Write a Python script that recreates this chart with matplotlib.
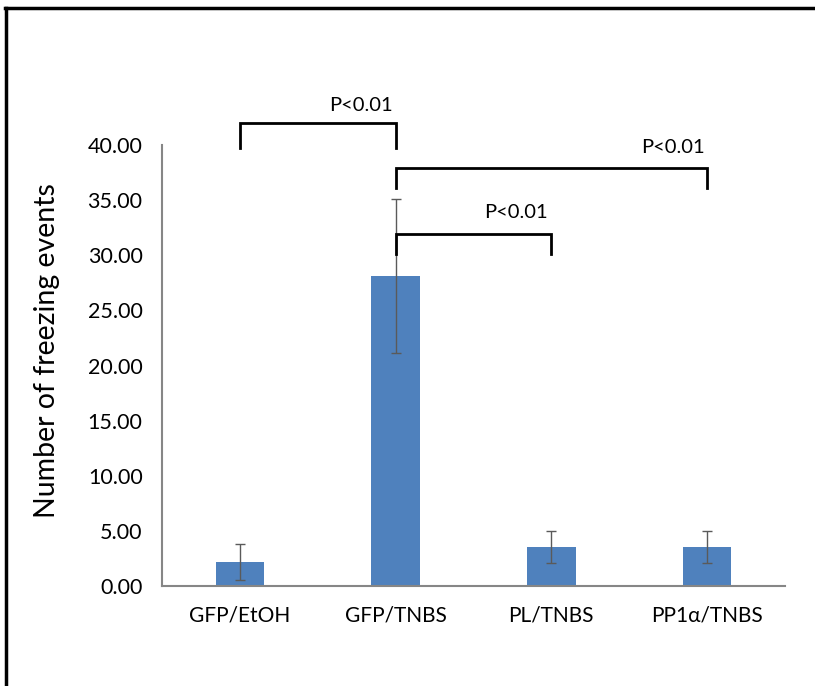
import matplotlib
matplotlib.use("Agg")
import matplotlib.pyplot as plt
from matplotlib.lines import Line2D

categories = ["GFP/EtOH", "GFP/TNBS", "PL/TNBS", "PP1α/TNBS"]
values = [2.20, 28.10, 3.55, 3.55]
errors = [1.63, 7.00, 1.45, 1.45]
yticks = [0, 5, 10, 15, 20, 25, 30, 35, 40]
ytick_labels = ["0.00", "5.00", "10.00", "15.00", "20.00", "25.00", "30.00", "35.00", "40.00"]

# significance brackets: (left index, right index, bar height, leg bottom, text x, text y, label)
brackets = [
    (0, 1, 42.0, 39.7, 0.78, 43.6, "P<0.01"),
    (1, 3, 37.9, 36.1, 2.78, 39.8, "P<0.01"),
    (1, 2, 31.9, 30.1, 1.77, 33.9, "P<0.01"),
]

plt.rcParams['font.family'] = ['Lato', 'DejaVu Sans']

fig = plt.figure(figsize=(8.15, 6.86), dpi=100)
ax = fig.add_axes([162/815, 1-586/686, (785-162)/815, (586-145)/686])

x = list(range(len(categories)))
ax.bar(x, values, width=0.31, color="#4F81BD", zorder=2)
ax.errorbar(x, values, yerr=errors, fmt='none', ecolor="#5a5a5a", elinewidth=1.0,
            capsize=3.5, capthick=1.0, zorder=3)

ax.set_xlim(-0.5, 3.5)
ax.set_ylim(0, 40)
ax.set_yticks(yticks)
ax.set_yticklabels(ytick_labels, fontsize=15.5)
ax.set_xticks(x)
ax.set_xticklabels(categories, fontsize=15)
ax.tick_params(axis='both', length=0, colors="#000000")
ax.tick_params(axis='y', pad=14)
ax.tick_params(axis='x', pad=14)
for s in ['top', 'right']:
    ax.spines[s].set_visible(False)
for s in ['left', 'bottom']:
    ax.spines[s].set_color("#868686")
    ax.spines[s].set_linewidth(1.5)

ax.set_ylabel("Number of freezing events", fontsize=20.5)
ax.yaxis.set_label_coords(-0.163, 0.535)

for (i0, i1, yh, yb, tx, ty, lab) in brackets:
    ax.plot([i0, i0, i1, i1], [yb, yh, yh, yb], color="black", lw=2.0,
            clip_on=False, zorder=4, solid_joinstyle='miter')
    ax.text(tx, ty, lab, ha='center', va='center', fontsize=14.5, clip_on=False)

# outer frame (top and left edges visible)
fig.add_artist(Line2D([5.5/815, 5.5/815], [0, 1-7.5/686], transform=fig.transFigure,
                      color="black", lw=2.5))
fig.add_artist(Line2D([4.5/815, 1], [1-7.5/686, 1-7.5/686], transform=fig.transFigure,
                      color="black", lw=2.5))

fig.savefig("out.png", dpi=100)
